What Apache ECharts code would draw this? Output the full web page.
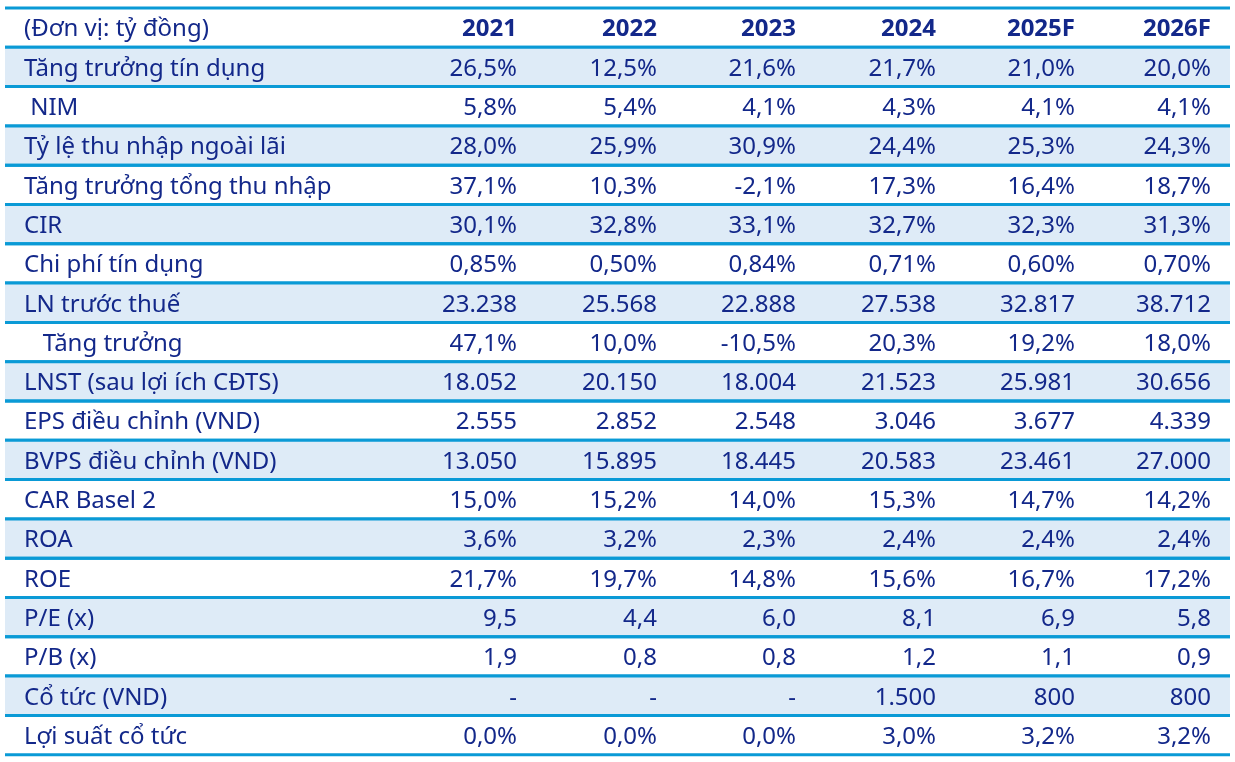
<!DOCTYPE html>
<html><head><meta charset="utf-8">
<script src="https://cdn.jsdelivr.net/npm/echarts@6/dist/echarts.min.js"></script>
<style>html,body{margin:0;background:#fff}#c{width:1235px;height:762px}</style>
</head><body><div id="c"></div>
<script>
var years = ['2021','2022','2023','2024','2025F','2026F'];
var labels = ['Tăng trưởng tín dụng',' NIM','Tỷ lệ thu nhập ngoài lãi','Tăng trưởng tổng thu nhập','CIR','Chi phí tín dụng','LN trước thuế','   Tăng trưởng','LNST (sau lợi ích CĐTS)','EPS điều chỉnh (VND)','BVPS điều chỉnh (VND)','CAR Basel 2','ROA','ROE','P/E (x)','P/B (x)','Cổ tức (VND)','Lợi suất cổ tức'];
var values = [
 ['26,5%','12,5%','21,6%','21,7%','21,0%','20,0%'],
 ['5,8%','5,4%','4,1%','4,3%','4,1%','4,1%'],
 ['28,0%','25,9%','30,9%','24,4%','25,3%','24,3%'],
 ['37,1%','10,3%','-2,1%','17,3%','16,4%','18,7%'],
 ['30,1%','32,8%','33,1%','32,7%','32,3%','31,3%'],
 ['0,85%','0,50%','0,84%','0,71%','0,60%','0,70%'],
 ['23.238','25.568','22.888','27.538','32.817','38.712'],
 ['47,1%','10,0%','-10,5%','20,3%','19,2%','18,0%'],
 ['18.052','20.150','18.004','21.523','25.981','30.656'],
 ['2.555','2.852','2.548','3.046','3.677','4.339'],
 ['13.050','15.895','18.445','20.583','23.461','27.000'],
 ['15,0%','15,2%','14,0%','15,3%','14,7%','14,2%'],
 ['3,6%','3,2%','2,3%','2,4%','2,4%','2,4%'],
 ['21,7%','19,7%','14,8%','15,6%','16,7%','17,2%'],
 ['9,5','4,4','6,0','8,1','6,9','5,8'],
 ['1,9','0,8','0,8','1,2','1,1','0,9'],
 ['-','-','-','1.500','800','800'],
 ['0,0%','0,0%','0,0%','3,0%','3,2%','3,2%']
];
var unitLabel = '(Đơn vị: tỷ đồng)';

// layout
var colRight = [517, 657, 796, 936, 1075, 1211];
var TOP = 8, ROWH = 39.3, LEFT = 5, RIGHT = 1230, LABELX = 24;
var NAVY = '#13288a', LINE = '#0a9ad6', SHADE = '#deebf7';
var FONT = '"Noto Sans", "DejaVu Sans", sans-serif';

var cells = [];
cells.push([LABELX, 0, unitLabel, 'left', 0]);
years.forEach(function(y, j){ cells.push([colRight[j], 0, y, 'right', 1]); });
labels.forEach(function(l, i){
  cells.push([LABELX, i+1, l, 'left', 0]);
  values[i].forEach(function(v, j){ cells.push([colRight[j], i+1, v, 'right', 0]); });
});
var rows = [];
for (var r = 0; r <= labels.length; r++) rows.push([r, r % 2 === 1 ? 1 : 0]);

var chart = echarts.init(document.getElementById('c'));
chart.setOption({
  animation: false,
  grid: {left: 0, right: 0, top: 0, bottom: 0},
  xAxis: {type: 'value', min: 0, max: 1235, show: false},
  yAxis: {type: 'value', min: 0, max: 762, inverse: true, show: false},
  series: [
    {type: 'custom', data: rows, renderItem: function(params, api){
      var r = api.value(0);
      var p0 = api.coord([LEFT, TOP + r*ROWH]);
      var p1 = api.coord([RIGHT, TOP + (r+1)*ROWH]);
      var ch = [];
      if (api.value(1)) ch.push({type:'rect', shape:{x:p0[0], y:p0[1], width:p1[0]-p0[0], height:p1[1]-p0[1]}, style:{fill:SHADE}});
      ch.push({type:'rect', shape:{x:p0[0], y:p0[1]-1.5, width:p1[0]-p0[0], height:3}, style:{fill:LINE}});
      ch.push({type:'rect', shape:{x:p0[0], y:p1[1]-1.5, width:p1[0]-p0[0], height:3}, style:{fill:LINE}});
      return {type:'group', children: ch};
    }},
    {type: 'custom', data: cells, renderItem: function(params, api){
      var row = api.value(1);
      var p = api.coord([api.value(0), TOP + (row+0.5)*ROWH + 2]);
      var bold = cells[params.dataIndex][4];
      return {type:'text', x:p[0], y:p[1], style:{
        text: cells[params.dataIndex][2], align: cells[params.dataIndex][3], verticalAlign:'middle',
        fill: NAVY, font: (bold ? 'bold ' : '') + '24px ' + FONT}};
    }}
  ]
});
</script></body></html>
